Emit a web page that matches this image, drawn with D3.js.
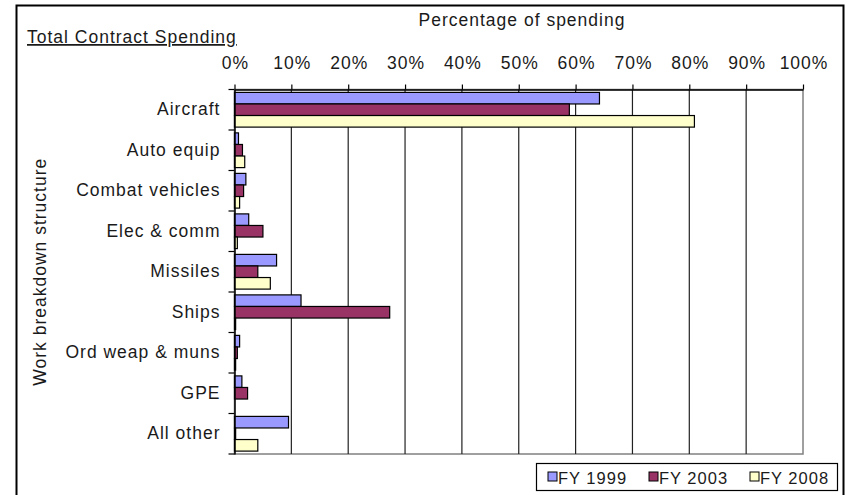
<!DOCTYPE html>
<html>
<head>
<meta charset="utf-8">
<script src="https://cdn.jsdelivr.net/npm/d3@7"></script>
<style>
  html, body { margin: 0; padding: 0; background: #fff; }
  svg { display: block; font-family: "Liberation Sans", Arial, sans-serif; }
  text { letter-spacing: 1px; }
</style>
</head>
<body>
<svg id="chart" width="848" height="495"></svg>
<script>
// Work breakdown categories, top to bottom
const categories = ["Aircraft", "Auto equip", "Combat vehicles", "Elec & comm", "Missiles",
                    "Ships", "Ord weap & muns", "GPE", "All other"];
// Share of total contract spending (%) per fiscal year
const fy1999 = [64.2, 0.7, 2.0, 2.5, 7.4, 11.7, 0.9, 1.3, 9.5];
const fy2003 = [58.9, 1.4, 1.6, 5.0, 4.1, 27.3, 0.5, 2.3, 0.2];
const fy2008 = [80.9, 1.8, 0.9, 0.5, 6.3, 0.2, 0.2, 0.0, 4.1];
const seriesNames = ["FY 1999", "FY 2003", "FY 2008"];
const seriesColors = ["#9999FF", "#993366", "#FFFFCC"];
const tickValues = [0, 10, 20, 30, 40, 50, 60, 70, 80, 90, 100];

const series = [fy1999, fy2003, fy2008];
const svg = d3.select("#chart");
const FONT = 17.5;
const INK = "#1a1a1a";

const plot = { left: 234.5, right: 803, top: 89.5, bottom: 454 };

const x = d3.scaleLinear().domain([0, 100]).range([plot.left, plot.right]);
const y = d3.scaleBand().domain(categories).range([plot.top, plot.bottom]).paddingInner(0).paddingOuter(0);
const inner = d3.scaleBand().domain(d3.range(series.length)).range([0, y.bandwidth()])
  .paddingInner(0).paddingOuter(0.25);

// Outer frame
svg.append("rect")
  .attr("x", 16.5).attr("y", 5.5).attr("width", 827).attr("height", 500)
  .attr("fill", "none").attr("stroke", "#000").attr("stroke-width", 2);

// Plot area border (grey bottom/right)
svg.append("rect")
  .attr("x", plot.left).attr("y", plot.top)
  .attr("width", plot.right - plot.left).attr("height", plot.bottom - plot.top)
  .attr("fill", "none").attr("stroke", "#808080").attr("stroke-width", 1.5);

// Vertical gridlines
svg.append("g").selectAll("line")
  .data(tickValues.slice(1, -1))
  .join("line")
  .attr("x1", d => x(d)).attr("x2", d => x(d))
  .attr("y1", plot.top).attr("y2", plot.bottom)
  .attr("stroke", "#222").attr("stroke-width", 1.2);

// Bars
series.forEach((vals, si) => {
  svg.append("g").selectAll("rect")
    .data(vals)
    .join("rect")
    .attr("x", x(0))
    .attr("y", (d, i) => y(categories[i]) + inner(si))
    .attr("width", d => x(d) - x(0))
    .attr("height", inner.bandwidth())
    .attr("fill", seriesColors[si])
    .attr("stroke", "#000").attr("stroke-width", 1.2);
});

// Top percentage axis
const xAxis = d3.axisTop(x)
  .tickValues(tickValues)
  .tickFormat(d => d + "%")
  .tickSizeInner(5).tickSizeOuter(0).tickPadding(16);
const gx = svg.append("g").attr("transform", `translate(0,${plot.top})`).call(xAxis);
gx.select(".domain").attr("stroke", "#000").attr("stroke-width", 1.5);
gx.selectAll(".tick line").attr("stroke", "#000").attr("stroke-width", 1.2);
gx.selectAll(".tick text").attr("font-size", FONT).attr("fill", INK)
  .attr("font-family", "'Liberation Sans', Arial, sans-serif").attr("dx", "0.5");

// Left category axis
const yAxis = d3.axisLeft(y).tickSize(0).tickPadding(14);
const gy = svg.append("g").attr("transform", `translate(${plot.left},0)`).call(yAxis);
gy.select(".domain").attr("stroke", "#000").attr("stroke-width", 1.5);
gy.selectAll(".tick text").attr("font-size", FONT).attr("fill", INK)
  .attr("font-family", "'Liberation Sans', Arial, sans-serif");

// Category separators on the left axis
const sepData = categories.map(c => y(c)).concat([plot.bottom]);
svg.append("g").selectAll("line")
  .data(sepData)
  .join("line")
  .attr("x1", plot.left - 6).attr("x2", plot.left)
  .attr("y1", d => d).attr("y2", d => d)
  .attr("stroke", "#000").attr("stroke-width", 1.2);

// Titles
svg.append("text")
  .attr("x", 522).attr("y", 26)
  .attr("text-anchor", "middle").attr("font-size", FONT).attr("fill", INK)
  .text("Percentage of spending");

svg.append("text")
  .attr("x", 27).attr("y", 43)
  .attr("font-size", FONT).attr("fill", INK)
  .attr("text-decoration", "underline")
  .text("Total Contract Spending");

svg.append("text")
  .attr("transform", `translate(46,${(plot.top + plot.bottom) / 2}) rotate(-90)`)
  .attr("text-anchor", "middle").attr("font-size", FONT).attr("fill", INK)
  .text("Work breakdown structure");

// Legend
const legend = svg.append("g").attr("transform", "translate(536,463)");
legend.append("rect")
  .attr("x", 0.5).attr("y", 0.5).attr("width", 301).attr("height", 27)
  .attr("fill", "#fff").attr("stroke", "#000").attr("stroke-width", 1.2);
seriesNames.forEach((name, i) => {
  const gx0 = 12 + i * 101;
  legend.append("rect")
    .attr("x", gx0).attr("y", 9).attr("width", 9).attr("height", 9)
    .attr("fill", seriesColors[i]).attr("stroke", "#000").attr("stroke-width", 1);
  legend.append("text")
    .attr("x", gx0 + 10).attr("y", 20.5)
    .attr("font-size", 16.5).attr("fill", INK)
    .text(name);
});
</script>
</body>
</html>
